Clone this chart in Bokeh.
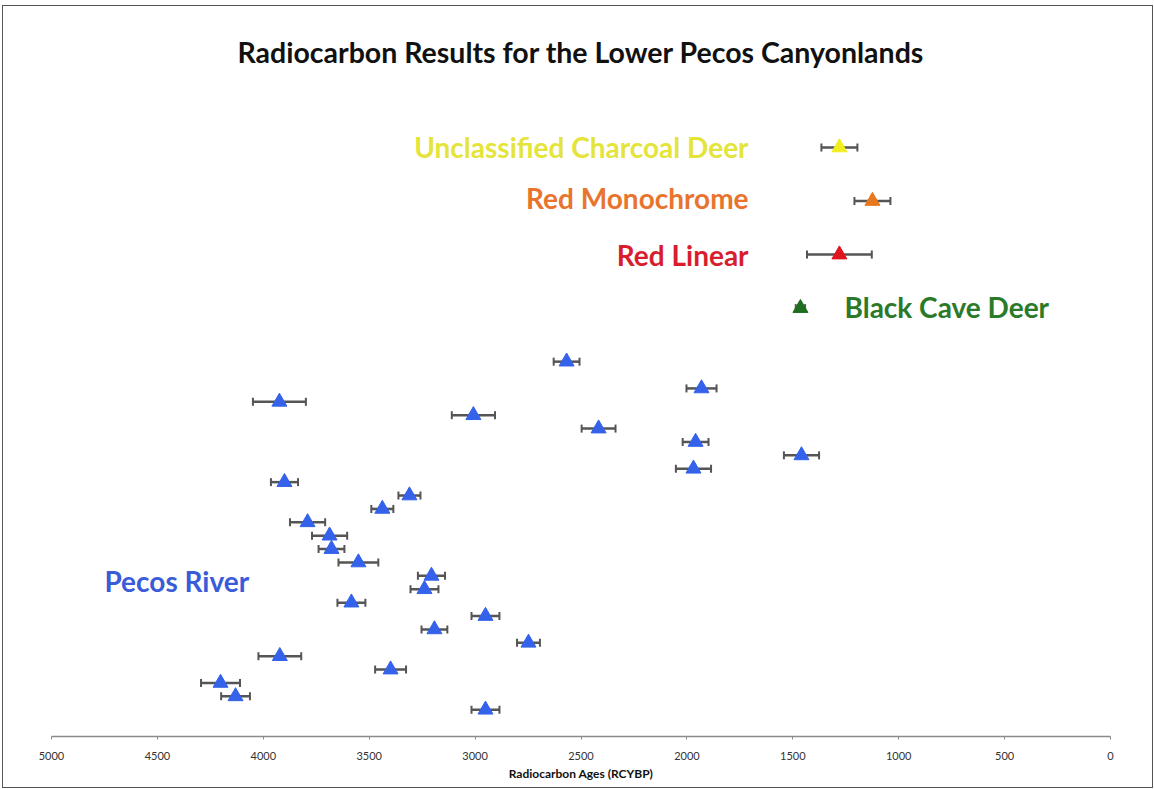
from bokeh.plotting import figure
from bokeh.models import Range1d, Whisker, TeeHead, ColumnDataSource, FixedTicker
from bokeh.core.properties import value
from bokeh.embed import file_html
from bokeh.resources import INLINE

# ---- data ----
pecos_age = [2568, 1931, 3924, 3008, 2417, 1959, 1459, 1969, 3900, 3310, 3438, 3791, 3687,
             3678, 3551, 3206, 3239, 3584, 2951, 3192, 2748, 3922, 3399, 4202, 4131, 2951]
pecos_err = [61, 71, 125, 102, 80, 61, 83, 83, 64, 52, 52, 83, 83,
             61, 94, 64, 66, 66, 66, 61, 54, 101, 73, 92, 68, 66]
pecos_row = [28, 26, 25, 24, 23, 22, 21, 20, 19, 18, 17, 16, 15,
             14, 13, 12, 11, 10, 9, 8, 7, 6, 5, 4, 3, 2]

style_names = ["Unclassified Charcoal Deer", "Red Monochrome", "Red Linear", "Black Cave Deer"]
style_age = [1280, 1124, 1280, 1464]
style_err = [85, 85, 153, 22]
style_row = [44, 40, 36, 32]
style_colors = ["#f2ee1e", "#e8781e", "#e0141c", "#1e6e1e"]
style_text_colors = ["#e4e43a", "#e8742e", "#d81e2e", "#2a7a2a"]

x_ticks = [5000, 4500, 4000, 3500, 3000, 2500, 2000, 1500, 1000, 500, 0]

W, H = 1151, 783
p = figure(width=W, height=H, output_backend="svg", toolbar_location=None,
           x_range=Range1d(5000, 0), y_range=Range1d(0, 49.3),
           min_border_left=48, min_border_right=44, min_border_top=70, min_border_bottom=53,
           title="Radiocarbon Results for the Lower Pecos Canyonlands")
p.margin = (5, 0, 0, 2)
p.styles = {"border": "1px solid #555555", "box-sizing": "border-box"}
p.title.align = "center"
p.title.text_font = "Lato"
p.title.text_font_size = "28.5px"
p.title.text_font_style = "bold"
p.title.text_color = "#111111"
p.title.offset = 0
p.title.standoff = 16

p.outline_line_color = None
p.grid.visible = False
p.yaxis.visible = False

ax = p.xaxis[0]
ax.ticker = FixedTicker(ticks=x_ticks)
ax.axis_line_color = "#8a8a8a"
ax.axis_line_width = 1.5
ax.major_tick_line_color = "#8a8a8a"
ax.major_tick_in = 0
ax.major_tick_out = 3
ax.minor_tick_line_color = None
ax.major_label_text_font = "Lato"
ax.major_label_text_font_size = "11px"
ax.major_label_text_color = "#333333"
ax.major_label_standoff = 12
ax.axis_label = "Radiocarbon Ages (RCYBP)"
ax.axis_label_text_font = "Lato"
ax.axis_label_text_font_size = "12px"
ax.axis_label_text_font_style = "bold"
ax.axis_label_text_color = "#111111"
ax.axis_label_standoff = 3

# Pecos River
src = ColumnDataSource(dict(x=pecos_age, y=pecos_row,
                            lo=[a - e for a, e in zip(pecos_age, pecos_err)],
                            hi=[a + e for a, e in zip(pecos_age, pecos_err)]))
w = Whisker(source=src, base="y", lower="lo", upper="hi", dimension="width",
            line_color="#555555", line_width=2.5,
            lower_head=TeeHead(size=8, line_color="#555555", line_width=2),
            upper_head=TeeHead(size=8, line_color="#555555", line_width=2))
p.add_layout(w)
p.scatter("x", "y", source=src, marker="triangle", size=15,
          fill_color="#3462ea", line_color="#3462ea")

# rock art styles
ssrc = ColumnDataSource(dict(x=style_age, y=style_row,
                             lo=[a - e for a, e in zip(style_age, style_err)],
                             hi=[a + e for a, e in zip(style_age, style_err)],
                             c=style_colors))
w2 = Whisker(source=ssrc, base="y", lower="lo", upper="hi", dimension="width",
             line_color="#555555", line_width=2.5,
             lower_head=TeeHead(size=8, line_color="#555555", line_width=2),
             upper_head=TeeHead(size=8, line_color="#555555", line_width=2))
p.add_layout(w2)
p.scatter("x", "y", source=ssrc, marker="triangle", size=15,
          fill_color="c", line_color="c")

# labels
lab_x = [1709, 1709, 1709, 1256]
lab_y = [44, 40.2, 36, 32.1]
lab_align = ["right", "right", "right", "left"]
for i in range(4):
    p.text(x=[lab_x[i]], y=[lab_y[i]], text=[style_names[i]],
           text_font=value("Lato"), text_font_size="28px", text_font_style="bold",
           text_color=style_text_colors[i], text_align=lab_align[i], text_baseline="middle")
p.text(x=[4750], y=[11.6], text=["Pecos River"], text_font=value("Lato"),
       text_font_size="28px", text_font_style="bold", text_color="#3a5cd8",
       text_align="left", text_baseline="middle")

open("out.html", "w").write(file_html(p, INLINE))
